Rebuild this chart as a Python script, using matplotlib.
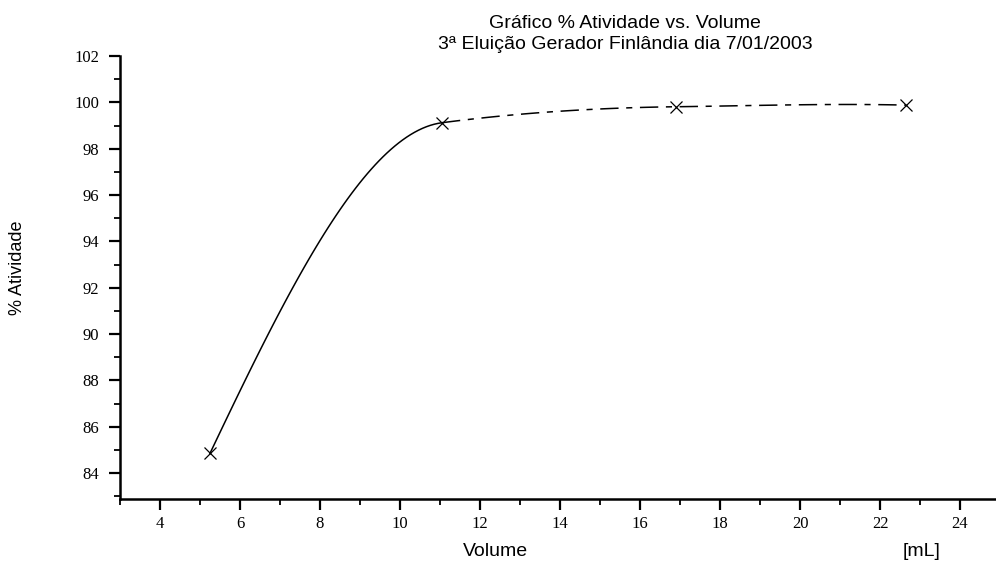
"""
Gráfico % Atividade vs. Volume - 3ª eluição, gerador Finlândia
"""
import numpy as np
import matplotlib
matplotlib.use("Agg")
import matplotlib.pyplot as plt
from matplotlib.ticker import MultipleLocator

# dados
volume = [5.25, 11.05, 16.9, 22.65]       # mL
atividade = [84.85, 99.12, 99.81, 99.88]   # %

titulo = "Gráfico % Atividade vs. Volume\n3ª Eluição Gerador Finlândia dia 7/01/2003"
x_ticks = [4, 6, 8, 10, 12, 14, 16, 18, 20, 22, 24]
y_ticks = [84, 86, 88, 90, 92, 94, 96, 98, 100, 102]


def pchip(x, y, n=60):
    # curva suave monotona entre os pontos (como a linha do programa original)
    x = np.asarray(x, float)
    y = np.asarray(y, float)
    h = np.diff(x)
    d = np.diff(y) / h
    m = np.zeros_like(y)
    for k in range(1, len(x) - 1):
        if d[k - 1] * d[k] > 0:
            w1 = 2 * h[k] + h[k - 1]
            w2 = h[k] + 2 * h[k - 1]
            m[k] = (w1 + w2) / (w1 / d[k - 1] + w2 / d[k])
    m[0] = ((2 * h[0] + h[1]) * d[0] - h[0] * d[1]) / (h[0] + h[1])
    m[-1] = ((2 * h[-1] + h[-2]) * d[-1] - h[-1] * d[-2]) / (h[-1] + h[-2])
    segs = []
    for k in range(len(h)):
        t = np.linspace(0, 1, n)
        h00 = 2 * t**3 - 3 * t**2 + 1
        h10 = t**3 - 2 * t**2 + t
        h01 = -2 * t**3 + 3 * t**2
        h11 = t**3 - t**2
        xs = x[k] + t * h[k]
        ys = h00 * y[k] + h10 * h[k] * m[k] + h01 * y[k + 1] + h11 * h[k] * m[k + 1]
        segs.append((xs, ys))
    return segs


fig = plt.figure(figsize=(9.96, 5.65), dpi=100)
ax = fig.add_axes([120 / 996, 1 - 499 / 565, 876 / 996, 443 / 565])

segs = pchip(volume, atividade)
ax.plot(segs[0][0], segs[0][1], color="black", lw=1.1)
xs = np.concatenate([s[0] for s in segs[1:]])
ys = np.concatenate([s[1] for s in segs[1:]])
ax.plot(xs, ys, color="black", lw=1.1, linestyle=(0, (12, 5, 4, 5)))
ax.plot(volume, atividade, linestyle="none", marker="x", ms=9, mew=0.9, color="black")

ax.set_xlim(3, 24.9)
ax.set_ylim(82.88, 102)
ax.set_xticks(x_ticks)
ax.set_yticks(y_ticks)
ax.xaxis.set_minor_locator(MultipleLocator(1))
ax.yaxis.set_minor_locator(MultipleLocator(1))

for s in ["top", "right"]:
    ax.spines[s].set_visible(False)
for s in ["left", "bottom"]:
    ax.spines[s].set_linewidth(1.8)

ax.tick_params(which="major", direction="out", length=8, width=1.6, pad=7)
ax.tick_params(axis="x", which="major", pad=4)
ax.tick_params(which="minor", direction="out", length=4, width=1.3)
for lab in ax.get_xticklabels() + ax.get_yticklabels():
    lab.set_family("Liberation Serif")
    lab.set_fontsize(12)

fig.text(625 / 996, 1 - 34 / 565, titulo, ha="center", va="center",
         family="Liberation Sans", fontsize=14, linespacing=1.25)
fig.text(18 / 996, 1 - 268 / 565, "% Atividade", rotation=90, ha="center", va="center",
         family="Liberation Sans", fontsize=13)
fig.text(495 / 996, 1 - 551 / 565, "Volume", ha="center", va="center",
         family="Liberation Sans", fontsize=14)
fig.text(922 / 996, 1 - 551 / 565, "[mL]", ha="center", va="center",
         family="Liberation Sans", fontsize=14)

fig.savefig("out.png", dpi=100)
